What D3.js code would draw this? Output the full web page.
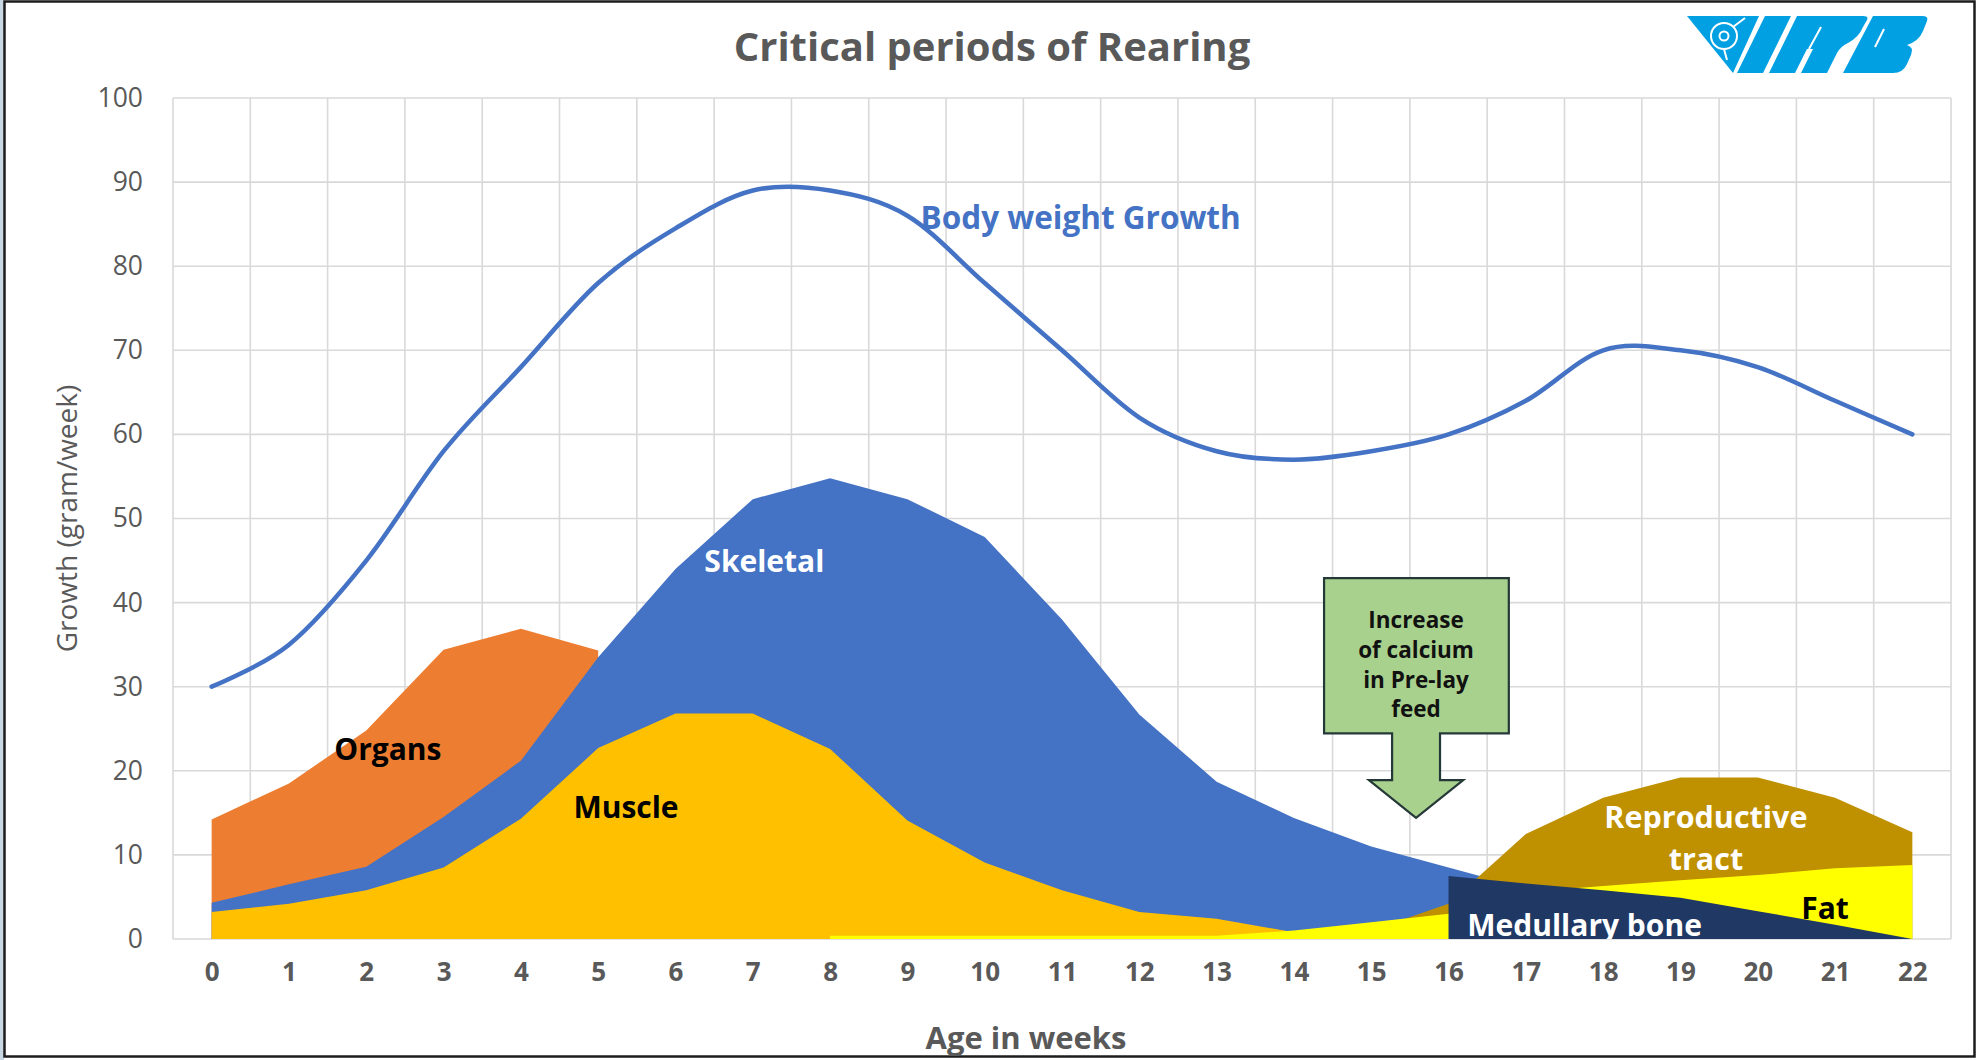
<!DOCTYPE html>
<html>
<head>
<meta charset="utf-8">
<script src="https://cdn.jsdelivr.net/npm/d3@7/dist/d3.min.js"></script>
<style>
  html, body { margin: 0; padding: 0; background: #fff; }
  svg { display: block; font-family: "Open Sans", sans-serif; }
</style>
</head>
<body>
<svg id="chart" width="1979" height="1060"></svg>
<script>
// values (gram/week), null = series not drawn there
const weeks = d3.range(0, 23);
const bodyWeight = [30, 35, 45, 58, 68, 78, 84.5, 89, 89, 86, 78, 70, 62, 58, 57, 58, 60, 64, 70, 70, 68, 64, 60];
const organs = [14.2, 18.5, 24.8, 34.4, 36.9, 34.3, null, null, null, null, null, null, null, null, null, null, null, null, null, null, null, null, null];
const skeletal = [4.3, 6.5, 8.6, 14.5, 21.2, 33.5, 44, 52.3, 54.8, 52.3, 47.8, 38, 26.7, 18.7, 14.4, 11, 8.5, 6, null, null, null, null, null];
const muscle = [3.2, 4.2, 5.8, 8.5, 14.3, 22.7, 26.8, 26.8, 22.6, 14.1, 9.1, 5.8, 3.2, 2.4, 0.8, null, null, null, null, null, null, null, null];
const reproductive = [null, null, null, null, null, null, null, null, null, null, null, null, null, null, 0, 1, 4.2, 12.5, 16.8, 19.2, 19.2, 16.8, 12.7];
const fat = [null, null, null, null, null, null, null, null, 0.4, 0.4, 0.4, 0.4, 0.4, 0.4, 1.0, 2.0, 3.0, 5.6, 6.3, 7.0, 7.6, 8.4, 8.8];
const medullary = [null, null, null, null, null, null, null, null, null, null, null, null, null, null, null, null, 7.5, 6.6, 5.8, 4.9, 3.3, 1.7, 0];
const yTicks = d3.range(0, 101, 10);

// back to front, like the original drawing order
const areaSeries = [
    { name: 'Organs', values: organs, color: '#ed7d31' },
    { name: 'Skeletal', values: skeletal, color: '#4472c4' },
    { name: 'Muscle', values: muscle, color: '#ffc000' },
    { name: 'Reproductive tract', values: reproductive, color: '#bf9000' },
    { name: 'Fat', values: fat, color: '#ffff00' },
    { name: 'Medullary bone', values: medullary, color: '#203864' }
];

// label anchors in data units (week, value of first line), gap = value step between lines
const labels = [
    { lines: ['Body weight Growth'], week: 9.17, value: 86, color: '#4472c4', anchor: 'start', size: 31.5 },
    { lines: ['Skeletal'], week: 7.15, value: 45.1, color: '#fff', anchor: 'middle', size: 30 },
    { lines: ['Organs'], week: 2.28, value: 22.7, color: '#000', anchor: 'middle', size: 30 },
    { lines: ['Muscle'], week: 5.36, value: 15.8, color: '#000', anchor: 'middle', size: 30 },
    { lines: ['Reproductive', 'tract'], week: 19.33, value: 14.6, gap: 5.0, color: '#fff', anchor: 'middle', size: 30.5 },
    { lines: ['Fat'], week: 20.87, value: 3.8, color: '#000', anchor: 'middle', size: 30 },
    { lines: ['Medullary bone'], week: 17.76, value: 1.8, color: '#fff', anchor: 'middle', size: 30 }
];
const calloutLines = ['Increase', 'of calcium', 'in Pre-lay', 'feed'];

const svg = d3.select('#chart');
const margin = { left: 173, right: 1951, top: 98, bottom: 939 };

const x = d3.scaleLinear().domain([-0.5, 22.5]).range([margin.left, margin.right]);
const y = d3.scaleLinear().domain([0, 100]).range([margin.bottom, margin.top]);

// frame
svg.append('rect').attr('x', 0).attr('y', 0).attr('width', 4).attr('height', 1060).attr('fill', '#c9d6e4');
svg.append('rect')
    .attr('x', 4.5).attr('y', 1.5).attr('width', 1970).attr('height', 1055)
    .attr('fill', 'none').attr('stroke', '#1c1c1c').attr('stroke-width', 2.5);

// grid
const grid = svg.append('g').attr('stroke', '#d9d9d9').attr('stroke-width', 1.6);
grid.selectAll('line.h')
    .data(yTicks)
    .join('line')
    .attr('class', 'h')
    .attr('x1', margin.left).attr('x2', margin.right)
    .attr('y1', (d) => y(d)).attr('y2', (d) => y(d));
grid.selectAll('line.v')
    .data(d3.range(-0.5, 23, 1))
    .join('line')
    .attr('class', 'v')
    .attr('x1', (d) => x(d)).attr('x2', (d) => x(d))
    .attr('y1', margin.top).attr('y2', margin.bottom);

// axes (labels only)
const yAxis = svg.append('g')
    .attr('transform', `translate(${margin.left},0)`)
    .call(d3.axisLeft(y).tickValues(yTicks).tickSize(0).tickPadding(30));
yAxis.select('.domain').remove();
yAxis.selectAll('text')
    .attr('font-family', '"Open Sans", sans-serif')
    .attr('font-size', 26.5)
    .attr('fill', '#595959');

const xAxis = svg.append('g')
    .attr('transform', `translate(0,${margin.bottom})`)
    .call(d3.axisBottom(x).tickValues(weeks).tickSize(0).tickPadding(24));
xAxis.select('.domain').remove();
xAxis.selectAll('text')
    .attr('font-family', '"Open Sans", sans-serif')
    .attr('font-size', 26)
    .attr('font-weight', 700)
    .attr('fill', '#595959');

// areas
const area = d3.area()
    .defined((d) => d != null)
    .x((d, i) => x(weeks[i]))
    .y0(y(0))
    .y1((d) => y(d));

svg.append('g')
    .selectAll('path')
    .data(areaSeries)
    .join('path')
    .attr('d', (d) => area(d.values))
    .attr('fill', (d) => d.color);

// callout box with arrow
const box = { left: 14.39, right: 16.78, top: 42.9, bottom: 24.45 };
const shaft = { left: 15.27, right: 15.89, end: 18.9 };
const head = { left: 14.97, right: 16.19, tip: 14.4, mid: 15.58 };
const callout = d3.path();
callout.moveTo(x(box.left), y(box.top));
callout.lineTo(x(box.right), y(box.top));
callout.lineTo(x(box.right), y(box.bottom));
callout.lineTo(x(shaft.right), y(box.bottom));
callout.lineTo(x(shaft.right), y(shaft.end));
callout.lineTo(x(head.right), y(shaft.end));
callout.lineTo(x(head.mid), y(head.tip));
callout.lineTo(x(head.left), y(shaft.end));
callout.lineTo(x(shaft.left), y(shaft.end));
callout.lineTo(x(shaft.left), y(box.bottom));
callout.lineTo(x(box.left), y(box.bottom));
callout.closePath();
svg.append('path')
    .attr('d', callout.toString())
    .attr('fill', '#a9d18e')
    .attr('stroke', '#243838')
    .attr('stroke-width', 2.2);
svg.append('text')
    .attr('text-anchor', 'middle')
    .attr('dominant-baseline', 'central')
    .attr('font-size', 22.5)
    .attr('font-weight', 700)
    .attr('fill', '#111')
    .selectAll('tspan')
    .data(calloutLines)
    .join('tspan')
    .attr('x', x(head.mid))
    .attr('y', (d, i) => y(38.0 - i * 3.53))
    .text((d) => d);

// body weight line
const line = d3.line()
    .x((d, i) => x(weeks[i]))
    .y((d) => y(d))
    .curve(d3.curveCatmullRom.alpha(0));
svg.append('path')
    .attr('d', line(bodyWeight))
    .attr('fill', 'none')
    .attr('stroke', '#4472c4')
    .attr('stroke-width', 4.5)
    .attr('stroke-linecap', 'round');

// series labels, clipped to the plot area
svg.append('clipPath').attr('id', 'plot-clip')
    .append('rect')
    .attr('x', margin.left).attr('y', margin.top)
    .attr('width', margin.right - margin.left).attr('height', margin.bottom - margin.top);

svg.append('g')
    .attr('clip-path', 'url(#plot-clip)')
    .selectAll('text')
    .data(labels)
    .join('text')
    .attr('text-anchor', (d) => d.anchor)
    .attr('dominant-baseline', 'central')
    .attr('font-size', (d) => d.size)
    .attr('font-weight', 700)
    .attr('fill', (d) => d.color)
    .selectAll('tspan')
    .data((d) => d.lines.map((t, i) => ({ t, xPos: x(d.week), yPos: y(d.value - i * (d.gap || 0)) })))
    .join('tspan')
    .attr('x', (d) => d.xPos)
    .attr('y', (d) => d.yPos)
    .text((d) => d.t);

// titles
svg.append('text')
    .attr('x', 992).attr('y', 45)
    .attr('text-anchor', 'middle')
    .attr('dominant-baseline', 'central')
    .attr('font-size', 40)
    .attr('font-weight', 700)
    .attr('fill', '#595959')
    .text('Critical periods of Rearing');

svg.append('text')
    .attr('x', 1026).attr('y', 1037)
    .attr('text-anchor', 'middle')
    .attr('dominant-baseline', 'central')
    .attr('font-size', 31)
    .attr('font-weight', 700)
    .attr('fill', '#595959')
    .text('Age in weeks');

svg.append('text')
    .attr('transform', `translate(66,${(margin.top + margin.bottom) / 2}) rotate(-90)`)
    .attr('text-anchor', 'middle')
    .attr('dominant-baseline', 'central')
    .attr('font-size', 28)
    .attr('fill', '#595959')
    .text('Growth (gram/week)');

// logo (rough sketch of the VRB mark)
const logo = svg.append('g').attr('transform', 'translate(1687,13)').attr('fill', '#00a0e3');
logo.append('path').attr('d', 'M0,3 L72,3 L46,60 Z');
logo.append('path').attr('d', 'M50,60 L76,60 L104,3 L78,3 Z');
logo.append('path').attr('d', 'M82,60 L108,60 L120,36 L126,36 L114,60 L140,60 L150,40 Q154,33 161,30 Q172,24 176,14 L180,7 Q182,3 176,3 L110,3 Z');
logo.append('path').attr('d', 'M156,60 L206,60 Q216,60 220,51 L224,42 Q227,34 220,32 Q232,28 236,18 L240,8 Q242,3 235,3 L186,3 Z');
const white = logo.append('g').attr('fill', 'none').attr('stroke', '#fff').attr('stroke-width', 2);
white.append('circle').attr('cx', 37).attr('cy', 23).attr('r', 13);
white.append('circle').attr('cx', 37).attr('cy', 23).attr('r', 4.5);
white.append('path').attr('d', 'M46,14 L58,5 M37,36 L40,47 M122,36 L134,14 M188,34 L197,16');
</script>
</body>
</html>
